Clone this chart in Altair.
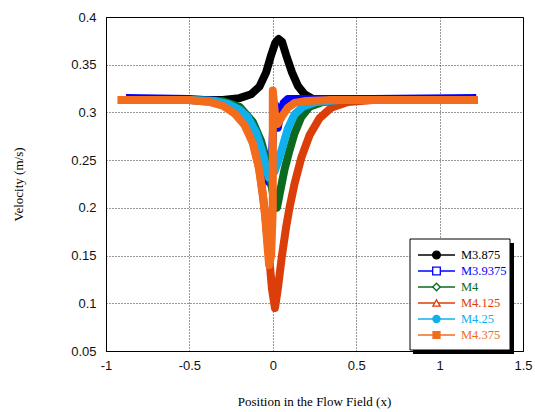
import altair as alt
import pandas as pd

series = ["M3.875", "M3.9375", "M4", "M4.125", "M4.25", "M4.375"]
colors = ["#000000", "#0000ff", "#0b6a1f", "#dc3e0a", "#0fb0ee", "#f26c1c"]
fills = ["#000000", "#ffffff", "#ffffff", "#ffffff", "#0fb0ee", "#f26c1c"]
shapes = ["circle", "square", "diamond", "triangle-up", "circle", "square"]
marker_sizes = [60, 48, 30, 48, 60, 56]

black_x = [-0.92, -0.5, -0.3, -0.2, -0.13, -0.08, -0.04, -0.01, 0.015, 0.035, 0.055, 0.08, 0.115, 0.15, 0.19, 0.24, 0.35, 0.7, 1.22]
black_y = [0.313, 0.313, 0.313, 0.315, 0.319, 0.327, 0.342, 0.36, 0.373, 0.377, 0.374, 0.36, 0.342, 0.328, 0.319, 0.314, 0.313, 0.313, 0.313]

blue_x = [-0.88, -0.5, -0.32, -0.22, -0.15, -0.1, -0.06, -0.03, -0.01, 0.005, 0.015, 0.03, 0.045, 0.065, 0.09, 0.2, 0.6, 1.22]
blue_y = [0.315, 0.314, 0.312, 0.305, 0.29, 0.27, 0.247, 0.228, 0.225, 0.3, 0.308, 0.284, 0.298, 0.31, 0.314, 0.314, 0.314, 0.315]

green_x = [-0.92, -0.5, -0.3, -0.2, -0.12, -0.07, -0.035, -0.01, 0.01, 0.025, 0.045, 0.07, 0.1, 0.13, 0.17, 0.22, 0.3, 0.45, 1.22]
green_y = [0.313, 0.313, 0.312, 0.306, 0.29, 0.27, 0.248, 0.225, 0.207, 0.2, 0.218, 0.24, 0.26, 0.278, 0.295, 0.306, 0.311, 0.313, 0.313]

red_x = [-0.92, -0.5, -0.35, -0.25, -0.17, -0.12, -0.08, -0.05, -0.025, -0.005, 0.013, 0.03, 0.055, 0.08, 0.1, 0.13, 0.17, 0.22, 0.28, 0.35, 0.45, 0.6, 1.22]
red_y = [0.313, 0.313, 0.311, 0.305, 0.29, 0.27, 0.24, 0.2, 0.155, 0.115, 0.095, 0.115, 0.15, 0.18, 0.2, 0.225, 0.252, 0.276, 0.294, 0.305, 0.311, 0.313, 0.313]

cyan_x = [-0.93, -0.5, -0.35, -0.27, -0.2, -0.15, -0.1, -0.065, -0.04, -0.025, -0.01, 0.01, 0.035, 0.06, 0.09, 0.13, 0.18, 0.26, 0.4, 0.7, 1.23]
cyan_y = [0.313, 0.313, 0.312, 0.309, 0.303, 0.295, 0.279, 0.26, 0.243, 0.232, 0.235, 0.238, 0.25, 0.265, 0.283, 0.298, 0.306, 0.311, 0.313, 0.313, 0.313]

orange_x = [-0.93, -0.5, -0.38, -0.3, -0.23, -0.17, -0.12, -0.085, -0.06, -0.045, -0.032, -0.022, -0.01, 0.0, 0.0, 0.012, 0.03, 0.055, 0.09, 0.13, 0.2, 0.35, 0.7, 1.23]
orange_y = [0.313, 0.313, 0.311, 0.307, 0.299, 0.287, 0.268, 0.243, 0.215, 0.19, 0.16, 0.14, 0.15, 0.2, 0.323, 0.3, 0.288, 0.296, 0.305, 0.31, 0.312, 0.313, 0.313, 0.313]

x_ticks = [-1, -0.5, 0, 0.5, 1, 1.5]
y_ticks = [0.05, 0.1, 0.15, 0.2, 0.25, 0.3, 0.35, 0.4]

all_x = [black_x, blue_x, green_x, red_x, cyan_x, orange_x]
all_y = [black_y, blue_y, green_y, red_y, cyan_y, orange_y]

rows = []
for name, xs, ys in zip(series, all_x, all_y):
    for i, (xv, yv) in enumerate(zip(xs, ys)):
        rows.append({"series": name, "x": xv, "y": yv, "idx": i})
df = pd.DataFrame(rows)
leg_df = pd.DataFrame({"series": series})

xscale = alt.Scale(domain=[-1, 1.5], nice=False, zero=False)
yscale = alt.Scale(domain=[0.05, 0.4], nice=False, zero=False)
color_scale = alt.Scale(domain=series, range=colors)

xaxis = alt.Axis(
    values=x_ticks, labelExpr="'' + datum.value", title="Position in the Flow Field (x)",
    grid=True, gridDash=[1, 2], gridColor="#000000", gridOpacity=0.8, tickSize=0,
    labelPadding=8, labelFont="Liberation Sans", labelFontSize=13, labelColor="#111111",
    titleFont="Liberation Serif", titleFontSize=13, titleFontWeight="normal",
    titleX=208, titleY=50, titleBaseline="middle", titleAlign="center",
    domainColor="#000000", labelFlush=False,
)
yaxis = alt.Axis(
    values=y_ticks, labelExpr="'' + datum.value", title="Velocity (m/s)",
    grid=True, gridDash=[1, 2], gridColor="#000000", gridOpacity=0.8, tickSize=0,
    labelPadding=10, labelFont="Liberation Sans", labelFontSize=13, labelColor="#111111",
    titleFont="Liberation Serif", titleFontSize=13, titleFontWeight="normal",
    titleX=-88, titleY=167, titleBaseline="middle", titleAlign="center", titleAngle=270,
    domainColor="#000000", labelFlush=False,
)

layers = []
for name in series:
    layers.append(
        alt.Chart(df).transform_filter(alt.datum.series == name).mark_line(
            strokeWidth=8, strokeJoin="round", clip=True
        ).encode(
            x=alt.X("x:Q", scale=xscale, axis=xaxis),
            y=alt.Y("y:Q", scale=yscale, axis=yaxis),
            color=alt.Color("series:N", scale=color_scale, legend=None),
            order="idx:Q",
        )
    )
main = alt.layer(*layers)

# hand-built legend box (guide only; entries come from the series list)
row_y = alt.Y("series:N", scale=alt.Scale(type="point", domain=series, range=[238, 318], padding=0), axis=None)
box_data = alt.Data(values=[{"k": 1}])

shadow = alt.Chart(box_data).mark_rect(color="#000000").encode(
    x=alt.value(307), x2=alt.value(408), y=alt.value(226), y2=alt.value(337)
)
box = alt.Chart(box_data).mark_rect(fill="#ffffff", stroke="#000000", strokeWidth=1).encode(
    x=alt.value(304), x2=alt.value(404), y=alt.value(222), y2=alt.value(333)
)
leg_lines = alt.Chart(leg_df).mark_rule(strokeWidth=1.5).encode(
    x=alt.value(312), x2=alt.value(349), y=row_y,
    color=alt.Color("series:N", scale=color_scale, legend=None),
)
leg_pts = alt.Chart(leg_df).mark_point(filled=True, strokeWidth=1.3, opacity=1).encode(
    x=alt.value(330.5), y=row_y,
    shape=alt.Shape("series:N", scale=alt.Scale(domain=series, range=shapes), legend=None),
    fill=alt.Fill("series:N", scale=alt.Scale(domain=series, range=fills), legend=None),
    stroke=alt.Stroke("series:N", scale=alt.Scale(domain=series, range=colors), legend=None),
    size=alt.Size("series:N", scale=alt.Scale(domain=series, range=marker_sizes), legend=None),
)
leg_text = alt.Chart(leg_df).mark_text(
    align="left", baseline="middle", font="Liberation Serif", fontSize=12.5
).encode(
    x=alt.value(355), y=row_y, text="series:N",
    color=alt.Color("series:N", scale=color_scale, legend=None),
)
legend = alt.layer(shadow, box, leg_lines, leg_pts, leg_text)

chart = alt.layer(main, legend).resolve_scale(y="independent").properties(
    width=417, height=334,
    autosize=alt.AutoSizeParams(type="none"),
    padding={"left": 106, "top": 17, "right": 12, "bottom": 61},
).configure_view(stroke="#000000", strokeWidth=1)

chart.save("out.html", embed_options={"renderer": "svg", "actions": False})
